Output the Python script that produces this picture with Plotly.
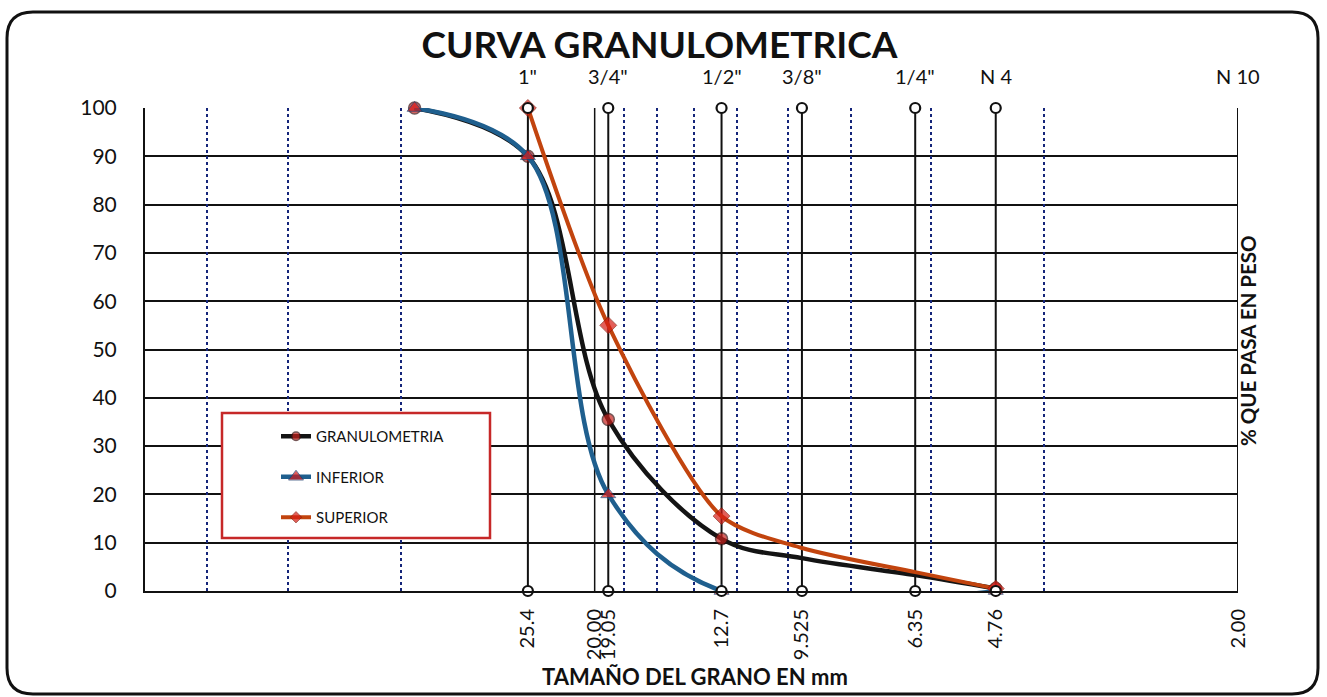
import math
import plotly.graph_objects as go

# sieve openings (mm) with their names on top of the chart
sieve_mm = [25.4, 19.05, 12.7, 9.525, 6.35, 4.76, 2.00]
sieve_names = ['1"', '3/4"', '1/2"', '3/8"', '1/4"', 'N 4', 'N 10']

# labels under the x axis
bottom_vals = [25.4, 20.0, 19.05, 12.7, 9.525, 6.35, 4.76, 2.0]
bottom_text = ['25.4', '20.00', '19.05', '12.7', '9.525', '6.35', '4.76', '2.00']

# dashed reference lines (mm)
dash_mm = [80, 60, 40, 18, 16, 14, 12, 10, 8, 6, 4]

# curves: % que pasa
gran_mm = [38.1, 25.4, 19.05, 12.7, 9.525, 6.35, 4.76]
gran_pct = [100, 90, 35.5, 10.8, 6.8, 3.3, 0.5]

inf_mm = [38.1, 25.4, 19.05, 12.7, 4.76]
inf_pct = [100, 90, 20, 0, 0]

sup_mm = [25.4, 19.05, 12.7, 9.525, 6.35, 4.76]
sup_pct = [100, 55, 15.5, 8.9, 3.9, 0.5]

no_marker_mm = [9.525, 6.35]   # points without marker on the original
y_ticks = list(range(0, 101, 10))

FONT = "Lato"
W, H = 1327, 697
ML, MR, MT, MB = 145, 89, 108, 106
PW, PH = W - ML - MR, H - MT - MB


def px(x):   # pixel -> paper
    return (x - ML) / PW


def py(y):
    return (H - MB - y) / PH


def msizes(xs, s):
    return [0 if v in no_marker_mm else s for v in xs]


fig = go.Figure()

# vertical sieve lines
lx, ly = [], []
for s in sieve_mm:
    lx += [s, s, None]
    ly += [0, 100, None]
fig.add_trace(go.Scatter(x=lx, y=ly, mode="lines", line=dict(color="#111", width=2),
                         showlegend=False, hoverinfo="skip"))
fig.add_trace(go.Scatter(x=[20.0, 20.0], y=[0, 100], mode="lines", line=dict(color="#111", width=1.5),
                         showlegend=False, hoverinfo="skip"))

fig.add_trace(go.Scatter(
    x=gran_mm, y=gran_pct, name="GRANULOMETRIA", mode="lines+markers", legendgroup="a",
    line=dict(color="#141414", width=4.5, shape="spline", smoothing=1.0),
    marker=dict(symbol="circle", size=msizes(gran_mm, 12), color="#c8201c", line=dict(color="#3a1010", width=1.5)),
    cliponaxis=False))
fig.add_trace(go.Scatter(
    x=inf_mm, y=inf_pct, name="INFERIOR", mode="lines+markers", legendgroup="b",
    line=dict(color="#1f5f8e", width=4.5, shape="spline", smoothing=1.0),
    marker=dict(symbol="triangle-up", size=msizes(inf_mm, 13), color="#d21a1a", line=dict(color="#1f3f6e", width=1)),
    cliponaxis=False))
fig.add_trace(go.Scatter(
    x=sup_mm, y=sup_pct, name="SUPERIOR", mode="lines+markers", legendgroup="c",
    line=dict(color="#c2440e", width=4, shape="spline", smoothing=0.75),
    marker=dict(symbol="diamond", size=msizes(sup_mm, 13), color="#d81c14", line=dict(color="#8a1a0a", width=1)),
    cliponaxis=False))

# circles at both ends of the sieve lines
cx, cy = [], []
for s in sieve_mm:
    cx += [s, s]
    cy += [0, 100]
fig.add_trace(go.Scatter(x=cx, y=cy, mode="markers", showlegend=False, hoverinfo="skip",
                         marker=dict(symbol="circle", size=10, color="white", line=dict(color="#111", width=2.2)),
                         cliponaxis=False))
fig.add_trace(go.Scatter(x=[], y=[], xaxis="x2", showlegend=False))

xr = [math.log10(100), math.log10(2)]
fig.update_layout(
    width=W, height=H,
    margin=dict(l=ML, r=MR, t=MT, b=MB),
    paper_bgcolor="white", plot_bgcolor="white",
    font=dict(family=FONT, color="#111"),
    title=dict(text="<b>CURVA GRANULOMETRICA</b>", x=0.497, xanchor="center", y=1 - 45 / H, yanchor="middle",
               font=dict(size=37, family=FONT, color="#111")),
    xaxis=dict(type="log", range=xr, showgrid=False, zeroline=False,
               tickmode="array", tickvals=bottom_vals, ticktext=bottom_text, tickangle=-90,
               ticks="outside", ticklen=8, tickcolor="rgba(0,0,0,0)",
               tickfont=dict(size=20, family=FONT, color="#111"),
               showline=True, linecolor="#111", linewidth=2),
    xaxis2=dict(type="log", range=xr, overlaying="x", anchor="y", showgrid=True, gridcolor="#15257a",
                griddash="dot", gridwidth=2, tickmode="array", tickvals=dash_mm, showticklabels=False,
                zeroline=False),
    yaxis=dict(range=[0, 100], tickmode="array", tickvals=y_ticks, showgrid=True, gridcolor="#111",
               gridwidth=1.5, zeroline=False, showline=True, linecolor="#111", linewidth=2,
               ticks="outside", ticklen=22, tickcolor="rgba(0,0,0,0)",
               tickfont=dict(size=21, family=FONT, color="#111")),
    legend=dict(x=px(276), y=py(420), xanchor="left", yanchor="top", bgcolor="rgba(0,0,0,0)",
                traceorder="grouped", tracegroupgap=18, font=dict(size=15, family=FONT, color="#111")),
    showlegend=True,
)

# legend box
fig.add_shape(type="rect", xref="paper", yref="paper", x0=px(222), x1=px(490), y0=py(538), y1=py(413),
              line=dict(color="#c62828", width=2.5), fillcolor="white", layer="above")

# outer rounded frame
L, R, T, B, r = 7, 1318, 12, 694, 26
path = (f"M {px(L + r)} {py(T)} L {px(R - r)} {py(T)} Q {px(R)} {py(T)} {px(R)} {py(T + r)} "
        f"L {px(R)} {py(B - r)} Q {px(R)} {py(B)} {px(R - r)} {py(B)} "
        f"L {px(L + r)} {py(B)} Q {px(L)} {py(B)} {px(L)} {py(B - r)} "
        f"L {px(L)} {py(T + r)} Q {px(L)} {py(T)} {px(L + r)} {py(T)} Z")
fig.add_shape(type="path", xref="paper", yref="paper", path=path, line=dict(color="#111", width=3))

# sieve names on top
for s, n in zip(sieve_mm, sieve_names):
    fig.add_annotation(x=math.log10(s), y=py(76), xref="x", yref="paper", text=n, showarrow=False,
                       font=dict(size=20, family=FONT, color="#111"), yanchor="middle")

fig.add_annotation(x=px(695), y=py(676), xref="paper", yref="paper", text="<b>TAMAÑO DEL GRANO EN mm</b>",
                   showarrow=False, font=dict(size=22, family=FONT, color="#111"), yanchor="middle")
fig.add_annotation(x=px(1262), y=py(341), xref="paper", yref="paper", text="<b>% QUE PASA EN PESO</b>",
                   textangle=-90, showarrow=False, font=dict(size=20.5, family=FONT, color="#111"))

fig.write_html("out.html", config={"displayModeBar": False},
               post_script="document.body.style.margin='0';document.body.style.overflow='hidden';")
